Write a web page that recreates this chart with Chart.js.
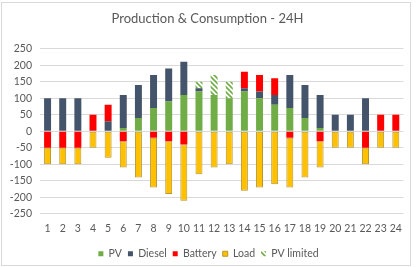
<!DOCTYPE html>
<html>
<head>
<meta charset="utf-8">
<script src="https://cdn.jsdelivr.net/npm/chart.js@4"></script>
<style>
    html, body { margin: 0; padding: 0; background: #fff; }
    #wrap {
        position: absolute; left: 1px; top: 2px;
        width: 408px; height: 262px;
        border: 1px solid #D9D9D9;
    }
    canvas { display: block; }
</style>
</head>
<body>
<div id="wrap"><canvas id="chartProduccion"></canvas></div>
<script>
const horas = ['1','2','3','4','5','6','7','8','9','10','11','12','13','14','15','16','17','18','19','20','21','22','23','24'];
const pv        = [0, 0, 0, 0, 0, 10, 40, 70, 90, 110, 120, 110, 100, 120, 100, 80, 70, 40, 10, 0, 0, 0, 0, 0];
const diesel    = [100, 100, 100, 0, 30, 100, 100, 100, 100, 100, 10, 0, 0, 10, 20, 30, 100, 100, 100, 50, 50, 100, 0, 0];
const bateria   = [-50, -50, -50, 50, 50, -30, 0, -20, -30, -40, 0, 0, 0, 50, 50, 50, -20, 0, -30, 0, 0, -50, 50, 50];
const carga     = [-50, -50, -50, -50, -80, -80, -140, -150, -160, -170, -130, -110, -100, -180, -170, -160, -150, -140, -80, -50, -50, -50, -50, -50];
const pvLimitado = [0, 0, 0, 0, 0, 0, 0, 0, 0, 0, 20, 60, 50, 0, 0, 0, 0, 0, 0, 0, 0, 0, 0, 0];
const ticksY = [250, 200, 150, 100, 50, 0, -50, -100, -150, -200, -250];

// patron rayado para PV limitado
function crearRayado(color) {
    const c = document.createElement('canvas');
    c.width = 5; c.height = 5;
    const g = c.getContext('2d');
    g.fillStyle = '#fff';
    g.fillRect(0, 0, 5, 5);
    g.strokeStyle = color;
    g.lineWidth = 1.6;
    g.beginPath();
    g.moveTo(-1, -1); g.lineTo(6, 6);
    g.moveTo(-1, 4); g.lineTo(1, 6);
    g.moveTo(4, -1); g.lineTo(6, 1);
    g.stroke();
    return g.createPattern(c, 'repeat');
}

// la leyenda del original esta un poco corrida a la derecha
const moverLeyenda = {
    id: 'moverLeyenda',
    afterLayout(chart) {
        const lg = chart.legend;
        if (lg) { lg.left += 2; lg.width -= 2; }
    }
};

const fuente = 'Lato, "Open Sans", sans-serif';
const gris = '#595959';

new Chart(document.getElementById('chartProduccion'), {
    type: 'bar',
    data: {
        labels: horas,
        datasets: [
            { label: 'PV', data: pv, backgroundColor: '#70AD47' },
            { label: 'Diesel', data: diesel, backgroundColor: '#44546A' },
            { label: 'Battery', data: bateria, backgroundColor: '#FF0000' },
            { label: 'Load', data: carga, backgroundColor: '#FFC000', borderColor: '#B8962E', borderWidth: 1, borderSkipped: false },
            { label: 'PV limited', data: pvLimitado, backgroundColor: crearRayado('#70AD47') }
        ]
    },
    plugins: [moverLeyenda],
    options: {
        responsive: true,
        maintainAspectRatio: false,
        animation: false,
        layout: { padding: { left: 8, right: 5, top: 0, bottom: -4 } },
        datasets: { bar: { categoryPercentage: 1, barPercentage: 0.46 } },
        plugins: {
            title: {
                display: true,
                text: 'Production & Consumption - 24H',
                color: gris,
                font: { family: fuente, size: 13, weight: 'normal' },
                padding: { top: 8, bottom: 22 }
            },
            legend: {
                position: 'bottom',
                labels: {
                    color: gris,
                    font: { family: fuente, size: 10.5 },
                    boxWidth: 5,
                    boxHeight: 5,
                    padding: 6
                }
            },
            tooltip: { enabled: false }
        },
        scales: {
            x: {
                stacked: true,
                grid: { display: false, drawTicks: false },
                border: { display: false },
                ticks: { color: gris, font: { family: fuente, size: 10.5 }, padding: 8, maxRotation: 0, autoSkip: false }
            },
            y: {
                stacked: true,
                min: -250,
                max: 250,
                afterBuildTicks: s => { s.ticks = ticksY.map(v => ({ value: v })); },
                afterFit: s => { s.width = 30; },
                grid: { color: '#D9D9D9', drawTicks: false },
                border: { display: false },
                ticks: { color: gris, font: { family: fuente, size: 10.5 }, padding: 8 }
            }
        }
    }
});
</script>
</body>
</html>
